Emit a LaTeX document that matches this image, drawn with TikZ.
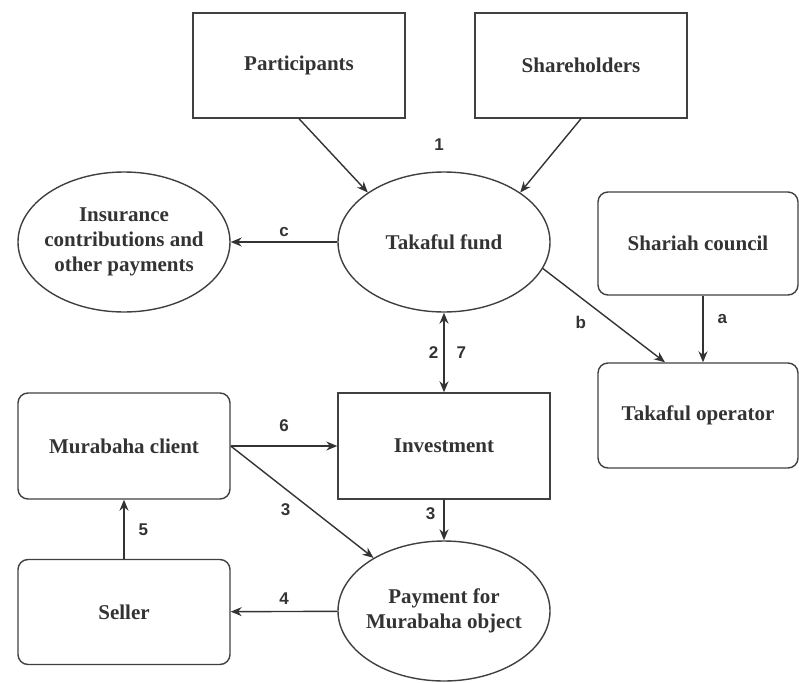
\documentclass[tikz,border=0pt]{standalone}
\usepackage{fontspec}
\setmainfont{Liberation Serif}
\setsansfont{Liberation Sans}
\usetikzlibrary{shapes.geometric,arrows.meta,positioning}

\begin{document}
\begin{tikzpicture}[x=1pt,y=-1pt,
  box/.style={draw=black!75, line width=1.4pt, minimum width=212pt, minimum height=105pt,
    font=\bfseries\fontsize{21}{25}\selectfont, text=black!80},
  rbox/.style={box, rounded corners=10pt},
  oval/.style={box, ellipse, minimum height=140pt, inner xsep=-7pt, align=center},
  lbl/.style={font=\sffamily\bfseries\fontsize{17}{17}\selectfont, inner sep=0pt, text=black!80},
  tip/.tip={Stealth[length=11pt,width=9pt]},
  arr/.style={draw=black!80, line width=1.4pt, -tip},
  darr/.style={arr, tip-tip}]
  \useasboundingbox (0,0) rectangle (799,682);

  % nodes
  \node[box] (part) at (299,65.5) {Participants};
  \node[box] (share) at (581,65.5) {Shareholders};
  \node[oval] (fund) at (444,242) {Takaful fund};
  \node[oval] (ins) at (124,242) {Insurance\\contributions and\\other payments};
  \node[rbox, minimum width=200pt, minimum height=103pt] (shariah) at (698,243.5) {Shariah council};
  \node[rbox, minimum width=200pt] (oper) at (698,415.5) {Takaful operator};
  \node[box, minimum height=106pt] (invest) at (444,446) {Investment};
  \node[rbox, minimum height=106pt] (client) at (124,446) {Murabaha client};
  \node[rbox] (seller) at (124,612) {Seller};
  \node[oval] (pay) at (444,611) {Payment for\\Murabaha object};
  \node[lbl] (one) at (439,145) {1};

  % flows
  \draw[arr] (part.south) -- (fund.147);
  \draw[arr] (share.south) -- (fund.33);
  \draw[arr] (fund) -- node[lbl, above=5pt] {c} (ins);
  \draw[arr] (fund.-15) -- node[lbl, pos=0.31, below=18pt] {b} ([xshift=-33pt]oper.north);
  \draw[arr] ([xshift=5pt]shariah.south) -- node[lbl, pos=0.35, right=14pt] {a} ([xshift=5pt]oper.north);
  \draw[darr] (fund) -- node[lbl, left=5pt] {2} node[lbl, right=12pt] {7} (invest);
  \draw[arr] (invest) -- node[lbl, pos=0.35, left=8pt] {3} (pay);
  \draw[arr] (client) -- node[lbl, above=14pt] {6} (invest);
  \draw[arr] (client.east) -- node[lbl, pos=0.385, below=14pt] {3} (pay.143);
  \draw[arr] (seller) -- node[lbl, right=14pt] {5} (client);
  \draw[arr] (pay) -- node[lbl, above=6pt] {4} (seller);
\end{tikzpicture}
\end{document}
